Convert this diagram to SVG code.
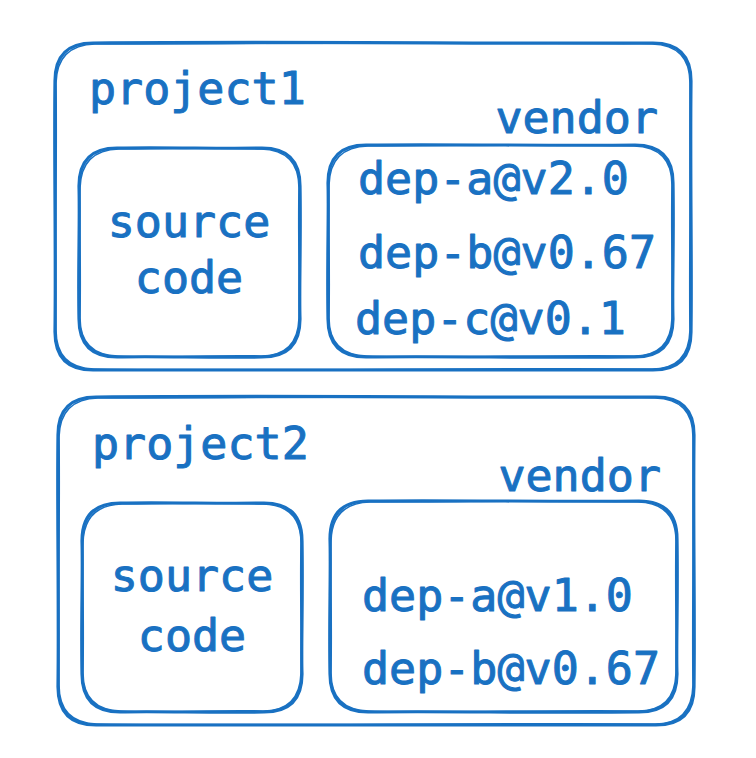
<svg xmlns="http://www.w3.org/2000/svg" width="756" height="758" viewBox="0 0 756 758">
<style>
.a{fill:none;stroke:#1971c2;stroke-width:3.2;stroke-linecap:round;stroke-linejoin:round}
.b{fill:none;stroke:#1971c2;stroke-width:1.6;stroke-linecap:round;stroke-linejoin:round}
text{font-family:"DejaVu Sans Mono","Liberation Mono",monospace;font-size:45px;fill:#1971c2;stroke:#1971c2;stroke-width:1;stroke-linejoin:round}
.c{text-anchor:middle}
.e{text-anchor:end}
</style>
<rect width="756" height="758" fill="#ffffff"/>
<g id="project1">
<path class="a" d="M93,43 C300,41 500,44 653,43 Q691,43 691,81 C690,180 692,260 691,332 Q691,370 653,370 C450,371 250,369 93,370 Q55,370 55,332 C56,250 54,150 55,81 Q55,43 93,43 Z"/>
<path class="b" d="M95,44 C300,43 520,42 652,44 Q690,45 690,83 C691,180 689,270 690,330 Q689,369 652,369 C450,368 260,371 94,369 Q56,368 56,330 C55,240 57,150 56,83 Q57,45 95,44"/>
<text x="89" y="104">project1</text>
<text class="e" x="658" y="133">vendor</text>
</g>
<g id="source1">
<path class="a" d="M117,148 C170,147 220,149 262,148 Q300,148 300,186 C301,240 299,290 300,319 Q300,357 262,357 C210,358 160,356 117,357 Q79,357 79,319 C78,270 80,220 79,186 Q79,148 117,148 Z"/>
<path class="b" d="M119,149 C170,149 230,147 261,149 Q299,150 299,188 C298,240 300,290 299,318 Q298,356 261,356 C210,355 160,358 118,356 Q80,355 80,318 C81,260 79,210 80,188 Q81,150 119,149"/>
<text class="c" x="189" y="237">source</text>
<text class="c" x="189" y="293">code</text>
</g>
<g id="vendor1">
<path class="a" d="M366,145 C450,144 560,146 635,145 Q673,145 673,183 C674,240 672,290 673,319 Q673,357 635,357 C540,358 440,356 366,357 Q328,357 328,319 C327,260 329,210 328,183 Q328,145 366,145 Z"/>
<path class="b" d="M368,146 C450,146 570,144 634,146 Q672,147 672,185 C671,240 673,290 672,318 Q671,356 634,356 C540,355 440,358 367,356 Q329,355 329,318 C330,260 328,210 329,185 Q330,147 368,146"/>
<text x="358" y="194">dep-a@v2.0</text>
<text x="358" y="268">dep-b@v0.67</text>
<text x="355" y="334">dep-c@v0.1</text>
</g>
<g id="project2">
<path class="a" d="M96,397 C300,395 500,398 656,397 Q694,397 694,435 C693,530 695,610 694,687 Q694,725 656,725 C450,726 250,724 96,725 Q58,725 58,687 C59,600 57,500 58,435 Q58,397 96,397 Z"/>
<path class="b" d="M98,398 C300,397 520,396 655,398 Q693,399 693,437 C694,530 692,620 693,685 Q692,724 655,724 C450,723 260,726 97,724 Q59,723 59,685 C58,590 60,500 59,437 Q60,399 98,398"/>
<text x="92" y="459">project2</text>
<text class="e" x="661" y="491">vendor</text>
</g>
<g id="source2">
<path class="a" d="M120,503 C170,502 220,504 264,503 Q302,503 302,541 C303,600 301,650 302,674 Q302,712 264,712 C210,713 160,711 120,712 Q82,712 82,674 C81,620 83,570 82,541 Q82,503 120,503 Z"/>
<path class="b" d="M122,504 C170,504 230,502 263,504 Q301,505 301,543 C300,600 302,650 301,673 Q300,711 263,711 C210,710 160,713 121,711 Q83,710 83,673 C84,610 82,560 83,543 Q84,505 122,504"/>
<text class="c" x="192" y="591">source</text>
<text class="c" x="192" y="651">code</text>
</g>
<g id="vendor2">
<path class="a" d="M368,501 C450,500 560,502 639,501 Q677,501 677,539 C678,600 676,650 677,674 Q677,712 639,712 C540,713 440,711 368,712 Q330,712 330,674 C329,620 331,570 330,539 Q330,501 368,501 Z"/>
<path class="b" d="M370,502 C450,502 570,500 638,502 Q676,503 676,541 C675,600 677,650 676,673 Q675,711 638,711 C540,710 440,713 369,711 Q331,710 331,673 C332,610 330,560 331,541 Q332,503 370,502"/>
<text x="362" y="611">dep-a@v1.0</text>
<text x="362" y="684">dep-b@v0.67</text>
</g>
</svg>
